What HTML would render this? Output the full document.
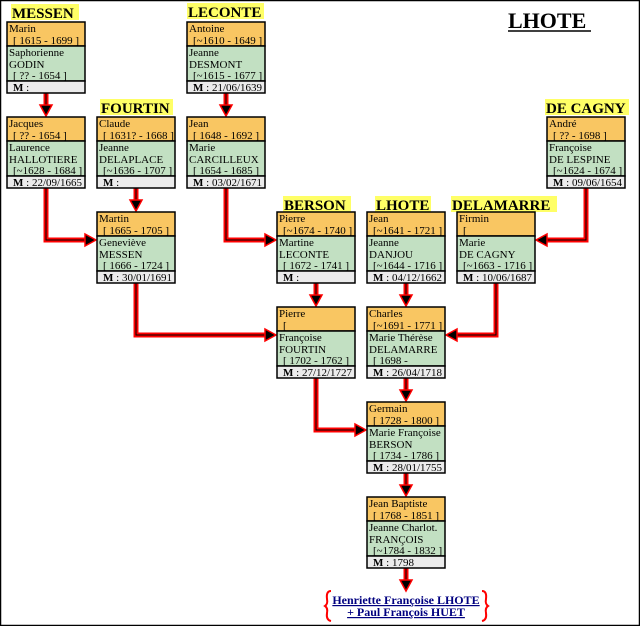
<!DOCTYPE html>
<html><head><meta charset="utf-8"><style>
html,body{margin:0;padding:0;background:#fff}
svg{display:block}
.t{font-family:"Liberation Serif",serif;font-size:11px;fill:#000}
.h{font-family:"Liberation Serif",serif;font-size:15px;font-weight:bold;fill:#000}
.o{fill:#F9C662;stroke:#000;stroke-width:1.5}
.g{fill:#C2E0C2;stroke:#000;stroke-width:1.5}
.m{fill:#EBEBEB;stroke:#000;stroke-width:1.5}
.r{fill:none;stroke:#f00;stroke-width:5}
.k{fill:none;stroke:#000;stroke-width:1}
.a{fill:#000;stroke:#f00;stroke-width:1.5}
.y{fill:#FFFF66}
</style></head><body>
<svg width="640" height="626" viewBox="0 0 640 626" xmlns="http://www.w3.org/2000/svg">
<rect x="0.5" y="0.5" width="639" height="625" fill="#fff" stroke="#000" stroke-width="1.5"/>

<g>
<path class="r" d="M46 93V106M226 93V106M136 188V201M316 283V296M406 283V296M406 378V391M406 473V486M406 568V581
M46 188V240H86M226 188V240H266M586 188V240H546M136 283V335H266M496 283V335H456M316 378V430H356"/>
<path class="k" d="M46 93V106M226 93V106M136 188V201M316 283V296M406 283V296M406 378V391M406 473V486M406 568V581
M46 188V240H86M226 188V240H266M586 188V240H546M136 283V335H266M496 283V335H456M316 378V430H356"/>
<polygon class="a" points="40,105 52,105 46,116"/>
<polygon class="a" points="220,105 232,105 226,116"/>
<polygon class="a" points="130,200 142,200 136,211"/>
<polygon class="a" points="310,295 322,295 316,306"/>
<polygon class="a" points="400,295 412,295 406,306"/>
<polygon class="a" points="400,390 412,390 406,401"/>
<polygon class="a" points="400,485 412,485 406,496"/>
<polygon class="a" points="400,580 412,580 406,591"/>
<polygon class="a" points="85,234 85,246 96,240"/>
<polygon class="a" points="265,234 265,246 276,240"/>
<polygon class="a" points="547,234 547,246 536,240"/>
<polygon class="a" points="265,329 265,341 276,335"/>
<polygon class="a" points="457,329 457,341 446,335"/>
<polygon class="a" points="355,424 355,436 366,430"/>
</g>

<rect class="y" x="11" y="4" width="68" height="16"/><text class="h" x="12" y="18">MESSEN</text>
<rect class="y" x="187" y="3" width="77" height="16"/><text class="h" x="188" y="17">LECONTE</text>
<rect class="y" x="100" y="99" width="73" height="16"/><text class="h" x="101" y="113">FOURTIN</text>
<rect class="y" x="545" y="99" width="84" height="16"/><text class="h" x="546" y="113">DE CAGNY</text>
<rect class="y" x="283" y="196" width="68" height="16"/><text class="h" x="284" y="210">BERSON</text>
<rect class="y" x="375" y="196" width="56" height="16"/><text class="h" x="376" y="210">LHOTE</text>
<rect class="y" x="451" y="196" width="106" height="16"/><text class="h" x="452" y="210">DELAMARRE</text>
<text x="508" y="28" style="font-family:'Liberation Serif',serif;font-size:22px;font-weight:bold">LHOTE</text>
<line x1="508" y1="31" x2="591" y2="31" stroke="#000" stroke-width="1.5"/>

<g transform="translate(7,22)"><rect class="o" width="78" height="24"/><rect class="g" y="24" width="78" height="35"/><rect class="m" y="59" width="78" height="12"/>
<text class="t" x="2" y="10">Marin</text><text class="t" x="6" y="22">[ 1615 - 1699 ]</text><text class="t" x="2" y="34">Saphorienne</text><text class="t" x="2" y="46">GODIN</text><text class="t" x="6" y="57">[ ?? - 1654 ]</text><text class="t" x="6" y="69"><tspan font-weight="bold">M</tspan> :</text></g>

<g transform="translate(187,22)"><rect class="o" width="78" height="24"/><rect class="g" y="24" width="78" height="35"/><rect class="m" y="59" width="78" height="12"/>
<text class="t" x="2" y="10">Antoine</text><text class="t" x="6" y="22">[~1610 - 1649 ]</text><text class="t" x="2" y="34">Jeanne</text><text class="t" x="2" y="46">DESMONT</text><text class="t" x="6" y="57">[~1615 - 1677 ]</text><text class="t" x="6" y="69"><tspan font-weight="bold">M</tspan> : 21/06/1639</text></g>

<g transform="translate(7,117)"><rect class="o" width="78" height="24"/><rect class="g" y="24" width="78" height="35"/><rect class="m" y="59" width="78" height="12"/>
<text class="t" x="2" y="10">Jacques</text><text class="t" x="6" y="22">[ ?? - 1654 ]</text><text class="t" x="2" y="34">Laurence</text><text class="t" x="2" y="46">HALLOTIERE</text><text class="t" x="6" y="57">[~1628 - 1684 ]</text><text class="t" x="6" y="69"><tspan font-weight="bold">M</tspan> : 22/09/1665</text></g>

<g transform="translate(97,117)"><rect class="o" width="78" height="24"/><rect class="g" y="24" width="78" height="35"/><rect class="m" y="59" width="78" height="12"/>
<text class="t" x="2" y="10">Claude</text><text class="t" x="6" y="22">[ 1631? - 1668 ]</text><text class="t" x="2" y="34">Jeanne</text><text class="t" x="2" y="46">DELAPLACE</text><text class="t" x="6" y="57">[~1636 - 1707 ]</text><text class="t" x="6" y="69"><tspan font-weight="bold">M</tspan> :</text></g>

<g transform="translate(187,117)"><rect class="o" width="78" height="24"/><rect class="g" y="24" width="78" height="35"/><rect class="m" y="59" width="78" height="12"/>
<text class="t" x="2" y="10">Jean</text><text class="t" x="6" y="22">[ 1648 - 1692 ]</text><text class="t" x="2" y="34">Marie</text><text class="t" x="2" y="46">CARCILLEUX</text><text class="t" x="6" y="57">[ 1654 - 1685 ]</text><text class="t" x="6" y="69"><tspan font-weight="bold">M</tspan> : 03/02/1671</text></g>

<g transform="translate(547,117)"><rect class="o" width="78" height="24"/><rect class="g" y="24" width="78" height="35"/><rect class="m" y="59" width="78" height="12"/>
<text class="t" x="2" y="10">André</text><text class="t" x="6" y="22">[ ?? - 1698 ]</text><text class="t" x="2" y="34">Françoise</text><text class="t" x="2" y="46">DE LESPINE</text><text class="t" x="6" y="57">[~1624 - 1674 ]</text><text class="t" x="6" y="69"><tspan font-weight="bold">M</tspan> : 09/06/1654</text></g>

<g transform="translate(97,212)"><rect class="o" width="78" height="24"/><rect class="g" y="24" width="78" height="35"/><rect class="m" y="59" width="78" height="12"/>
<text class="t" x="2" y="10">Martin</text><text class="t" x="6" y="22">[ 1665 - 1705 ]</text><text class="t" x="2" y="34">Geneviève</text><text class="t" x="2" y="46">MESSEN</text><text class="t" x="6" y="57">[ 1666 - 1724 ]</text><text class="t" x="6" y="69"><tspan font-weight="bold">M</tspan> : 30/01/1691</text></g>

<g transform="translate(277,212)"><rect class="o" width="78" height="24"/><rect class="g" y="24" width="78" height="35"/><rect class="m" y="59" width="78" height="12"/>
<text class="t" x="2" y="10">Pierre</text><text class="t" x="6" y="22">[~1674 - 1740 ]</text><text class="t" x="2" y="34">Martine</text><text class="t" x="2" y="46">LECONTE</text><text class="t" x="6" y="57">[ 1672 - 1741 ]</text><text class="t" x="6" y="69"><tspan font-weight="bold">M</tspan> :</text></g>

<g transform="translate(367,212)"><rect class="o" width="78" height="24"/><rect class="g" y="24" width="78" height="35"/><rect class="m" y="59" width="78" height="12"/>
<text class="t" x="2" y="10">Jean</text><text class="t" x="6" y="22">[~1641 - 1721 ]</text><text class="t" x="2" y="34">Jeanne</text><text class="t" x="2" y="46">DANJOU</text><text class="t" x="6" y="57">[~1644 - 1716 ]</text><text class="t" x="6" y="69"><tspan font-weight="bold">M</tspan> : 04/12/1662</text></g>

<g transform="translate(457,212)"><rect class="o" width="78" height="24"/><rect class="g" y="24" width="78" height="35"/><rect class="m" y="59" width="78" height="12"/>
<text class="t" x="2" y="10">Firmin</text><text class="t" x="6" y="22">[</text><text class="t" x="2" y="34">Marie</text><text class="t" x="2" y="46">DE CAGNY</text><text class="t" x="6" y="57">[~1663 - 1716 ]</text><text class="t" x="6" y="69"><tspan font-weight="bold">M</tspan> : 10/06/1687</text></g>

<g transform="translate(277,307)"><rect class="o" width="78" height="24"/><rect class="g" y="24" width="78" height="35"/><rect class="m" y="59" width="78" height="12"/>
<text class="t" x="2" y="10">Pierre</text><text class="t" x="6" y="22">[</text><text class="t" x="2" y="34">Françoise</text><text class="t" x="2" y="46">FOURTIN</text><text class="t" x="6" y="57">[ 1702 - 1762 ]</text><text class="t" x="6" y="69"><tspan font-weight="bold">M</tspan> : 27/12/1727</text></g>

<g transform="translate(367,307)"><rect class="o" width="78" height="24"/><rect class="g" y="24" width="78" height="35"/><rect class="m" y="59" width="78" height="12"/>
<text class="t" x="2" y="10">Charles</text><text class="t" x="6" y="22">[~1691 - 1771 ]</text><text class="t" x="2" y="34">Marie Thérèse</text><text class="t" x="2" y="46">DELAMARRE</text><text class="t" x="6" y="57">[ 1698 -</text><text class="t" x="6" y="69"><tspan font-weight="bold">M</tspan> : 26/04/1718</text></g>

<g transform="translate(367,402)"><rect class="o" width="78" height="24"/><rect class="g" y="24" width="78" height="35"/><rect class="m" y="59" width="78" height="12"/>
<text class="t" x="2" y="10">Germain</text><text class="t" x="6" y="22">[ 1728 - 1800 ]</text><text class="t" x="2" y="34">Marie Françoise</text><text class="t" x="2" y="46">BERSON</text><text class="t" x="6" y="57">[ 1734 - 1786 ]</text><text class="t" x="6" y="69"><tspan font-weight="bold">M</tspan> : 28/01/1755</text></g>

<g transform="translate(367,497)"><rect class="o" width="78" height="24"/><rect class="g" y="24" width="78" height="35"/><rect class="m" y="59" width="78" height="12"/>
<text class="t" x="2" y="10">Jean Baptiste</text><text class="t" x="6" y="22">[ 1768 - 1851 ]</text><text class="t" x="2" y="34">Jeanne Charlot.</text><text class="t" x="2" y="46">FRANÇOIS</text><text class="t" x="6" y="57">[~1784 - 1832 ]</text><text class="t" x="6" y="69"><tspan font-weight="bold">M</tspan> :   1798</text></g>

<text x="406" y="604" text-anchor="middle" style="font-family:'Liberation Serif',serif;font-size:12px;font-weight:bold;fill:#000080;text-decoration:underline">Henriette Françoise LHOTE</text>
<text x="406" y="616" text-anchor="middle" style="font-family:'Liberation Serif',serif;font-size:12px;font-weight:bold;fill:#000080;text-decoration:underline">+ Paul François HUET</text>
<path d="M331 591Q326 591 327 599Q328 604 325 606Q328 608 327 613Q326 620 331 621" fill="none" stroke="#f00" stroke-width="2"/>
<path d="M482 591Q487 591 486 599Q485 604 488 606Q485 608 486 613Q487 620 482 621" fill="none" stroke="#f00" stroke-width="2"/>
</svg>
</body></html>
